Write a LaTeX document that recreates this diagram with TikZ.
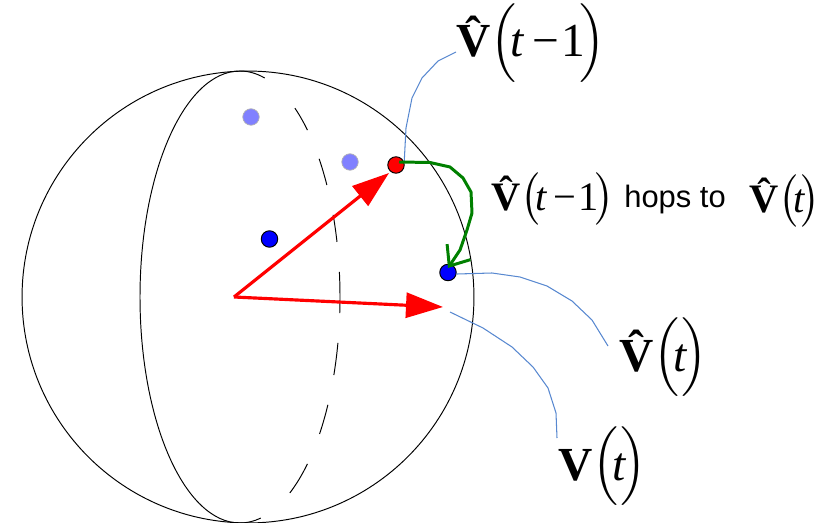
\documentclass[tikz,border=0pt]{standalone}
\usepackage{fix-cm}
\usepackage{exscale}
\usepackage{amsmath}
\usepackage{fontspec}
\setmainfont{Liberation Sans}
\newfontfamily\eqfont{Liberation Serif}
\usetikzlibrary{arrows.meta, positioning}
\definecolor{leaderblue}{RGB}{88,136,208}
\definecolor{hopgreen}{RGB}{0,128,0}

\newcommand{\eqV}{\mbox{\eqfont\bfseries V}}
\newcommand{\hatV}{\mbox{\eqfont\bfseries\^V}}
\newcommand{\eqt}{\mbox{\eqfont\itshape t}}
\newcommand{\eqtall}{\vrule height 0.875em depth 0.375em width 0pt}
\newcommand{\eqopen}{\raisebox{0.05em}{$\left(\eqtall\right.$}\mkern-3mu}
\newcommand{\eqclose}{\mkern-3mu\raisebox{0.05em}{$\left.\eqtall\right)$}}
\newcommand{\eqprev}{\eqt\mkern3mu\mbox{\eqfont −}\mkern1mu\mbox{\eqfont 1}}

\begin{document}
\begin{tikzpicture}[
    x=0.02cm, y=-0.02cm,
    sphereline/.style={line width=0.55pt, black},
    dot/.style={circle, draw=black, line width=0.55pt, minimum size=0.33cm, inner sep=0pt},
    ghost/.style={circle, draw=black!30, line width=0.4pt, fill=blue!50, minimum size=0.33cm, inner sep=0pt},
    arr/.style={-{Triangle[length=0.74cm, width=0.5cm]}, red, line width=1.8pt},
    hop/.style={-{Straight Barb[length=0.34cm, width=0.56cm]}, hopgreen, line width=1.7pt, line join=round},
    leader/.style={line width=0.6pt, leaderblue},
    biglabel/.style={font=\fontsize{27}{30}\selectfont, inner sep=0pt, anchor=base west},
    midlabel/.style={font=\fontsize{23}{25}\selectfont, inner sep=0pt, anchor=base west}
]
\useasboundingbox (0,0) rectangle (831,523);

% Sphere and meridian
\node[circle, draw, sphereline, minimum size=9.04cm, inner sep=0pt] (sphere) at (248,297) {};
\draw[sphereline] (240,71) arc[start angle=270, end angle=90, x radius=100, y radius=226];
\foreach \a/\b in {-90/-75.7, -56.7/-47.6, -37.7/-29.7, -21.3/-14.1, -6.4/4.1,
                   11.7/20.2, 28.5/37.3, 47.6/60.1, 78/90}
    \draw[sphereline] ({240+100*cos(\a)},{297+226*sin(\a)})
        arc[start angle=\a, end angle=\b, x radius=100, y radius=226];

% Labels
\node[biglabel] (lblprev) at (456,57) {$\hatV\eqopen\eqprev\eqclose$};
\node[biglabel] (lblnow) at (619,371) {$\hatV\eqopen\eqt\eqclose$};
\node[biglabel] (lblplain) at (558,480) {$\eqV\eqopen\eqt\eqclose$};
\node[midlabel] (hopa) at (491,211) {$\hatV\eqopen\eqprev\eqclose$};
\node[inner sep=0pt, anchor=base west, font=\fontsize{17.6}{20}\selectfont] (hopword) at (624,208) {hops to};
\node[midlabel] (hopb) at (749,213) {$\hatV\eqopen\eqt\eqclose$};

% Dots
\node[ghost] (ghosta) at (251,117) {};
\node[ghost] (ghostb) at (350,162) {};
\node[dot, fill=blue] (vback) at (269.5,239) {};
\node[dot, fill=red] (vprev) at (396,165) {};
\node[dot, fill=blue] (vnow) at (448,272.5) {};

% Leaders
\draw[leader] ([shift={(0,-5)}]lblprev.base west) -- (438,61) -- (422,78) -- (412,98) -- (406,128) -- (vprev.20);
\draw[leader] (vnow.-10) -- (492,273) -- (520,277) -- (547,286) -- (572,301) -- (592,320)
    -- ([shift={(-11,-25)}]lblnow.base west);
\coordinate (vtip) at (443,307);
\coordinate (vprevtip) at (389,173);
\coordinate (origin) at (234,297);
\coordinate (vgap) at (450,312);
\draw[leader] (vgap) -- (483,328) -- (512,347) -- (533,367) -- (548,388) -- (556,413)
    -- ([shift={(-1,-42)}]lblplain.base west);

% Vectors
\draw[arr] (origin) -- (vprevtip);
\draw[arr] (origin) -- (vtip);

% Hop
\draw[hop] ([shift={(3,-3)}]vprev.center) -- (430,162.5) -- (450,167) -- (463,178) -- (471,192)
    -- (472,213) -- (467,230) -- (460,250) -- ([shift={(0,-4.5)}]vnow.center);

\end{tikzpicture}
\end{document}
